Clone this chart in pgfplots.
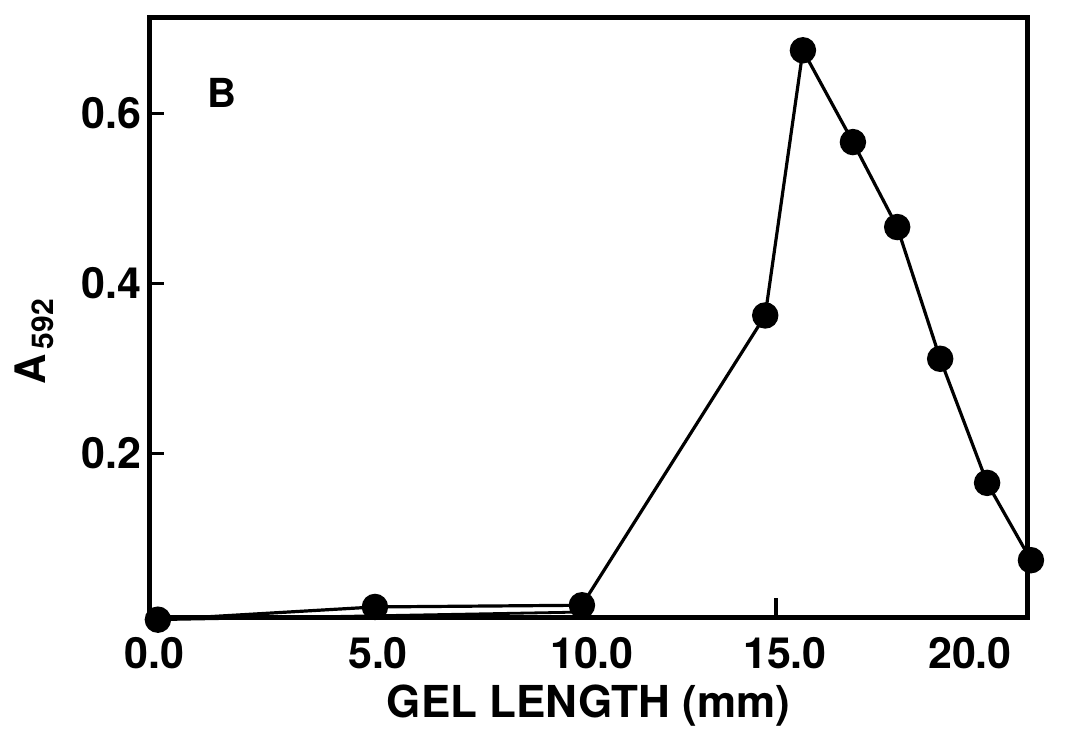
\documentclass[border=0pt]{standalone}
\usepackage{fontspec}
\setmainfont{TeX Gyre Heros}
\usepackage{pgfplots}
\pgfplotsset{compat=1.18}
\begin{document}
\begin{tikzpicture}
\begin{axis}[
  at={(0,0)}, anchor=south west,
  scale only axis,
  width=438.5pt, height=300pt,
  xmin=0, xmax=20, ymin=0.006, ymax=0.712,
  clip=false,
  axis line style={line width=2.5pt},
  /pgf/number format/assume math mode=true,
  tick align=inside,
  xtick pos=bottom, ytick pos=left,
  xtick={0.11,5.2,10.08,14.48,18.7},
  xticklabels={0.0,5.0,10.0,15.0,20.0},
  xtick style={draw=none},
  ytick={0.2,0.4,0.6},
  yticklabels={0.2,0.4,0.6},
  major tick length=7pt,
  ytick style={line width=1.5pt, black},
  ticklabel style={font=\bfseries\fontsize{21.5}{21.5}\selectfont},
  xticklabel style={yshift=-6pt},
  yticklabel style={xshift=-1pt},
]
\addplot[black, line width=1.4pt, mark=none, forget plot] coordinates {(0.18,0.004) (9.85,0.013)};
\addplot[black, line width=1.6pt, mark=*, mark size=5.8pt, mark options={solid, fill=black}]
  coordinates {
  (0.18,0.004) (5.13,0.019) (9.85,0.021) (14.03,0.362) (14.89,0.674)
  (16.03,0.566) (17.04,0.466) (18.02,0.311) (19.09,0.165) (20.09,0.074)
  };
\addplot[black, line width=2pt, mark=none, forget plot] coordinates {(14.28,0.006) (14.28,0.03)};
\node[font=\bfseries\fontsize{22}{22}\selectfont, inner sep=1pt, yshift=-44pt] at (rel axis cs:0.50,0) {GEL LENGTH (mm)};
\node[font=\bfseries\fontsize{20}{20}\selectfont] at (rel axis cs:0.082,0.875) {B};
\node[xshift=-58pt, font=\bfseries\fontsize{21}{21}\selectfont, rotate=90] at (rel axis cs:0,0.46) {A\raisebox{-4pt}{\fontsize{15}{15}\selectfont\,592}};
\end{axis}
\pgfresetboundingbox
\path (-75pt,-57pt) rectangle (471pt,309pt);
\end{tikzpicture}
\end{document}
